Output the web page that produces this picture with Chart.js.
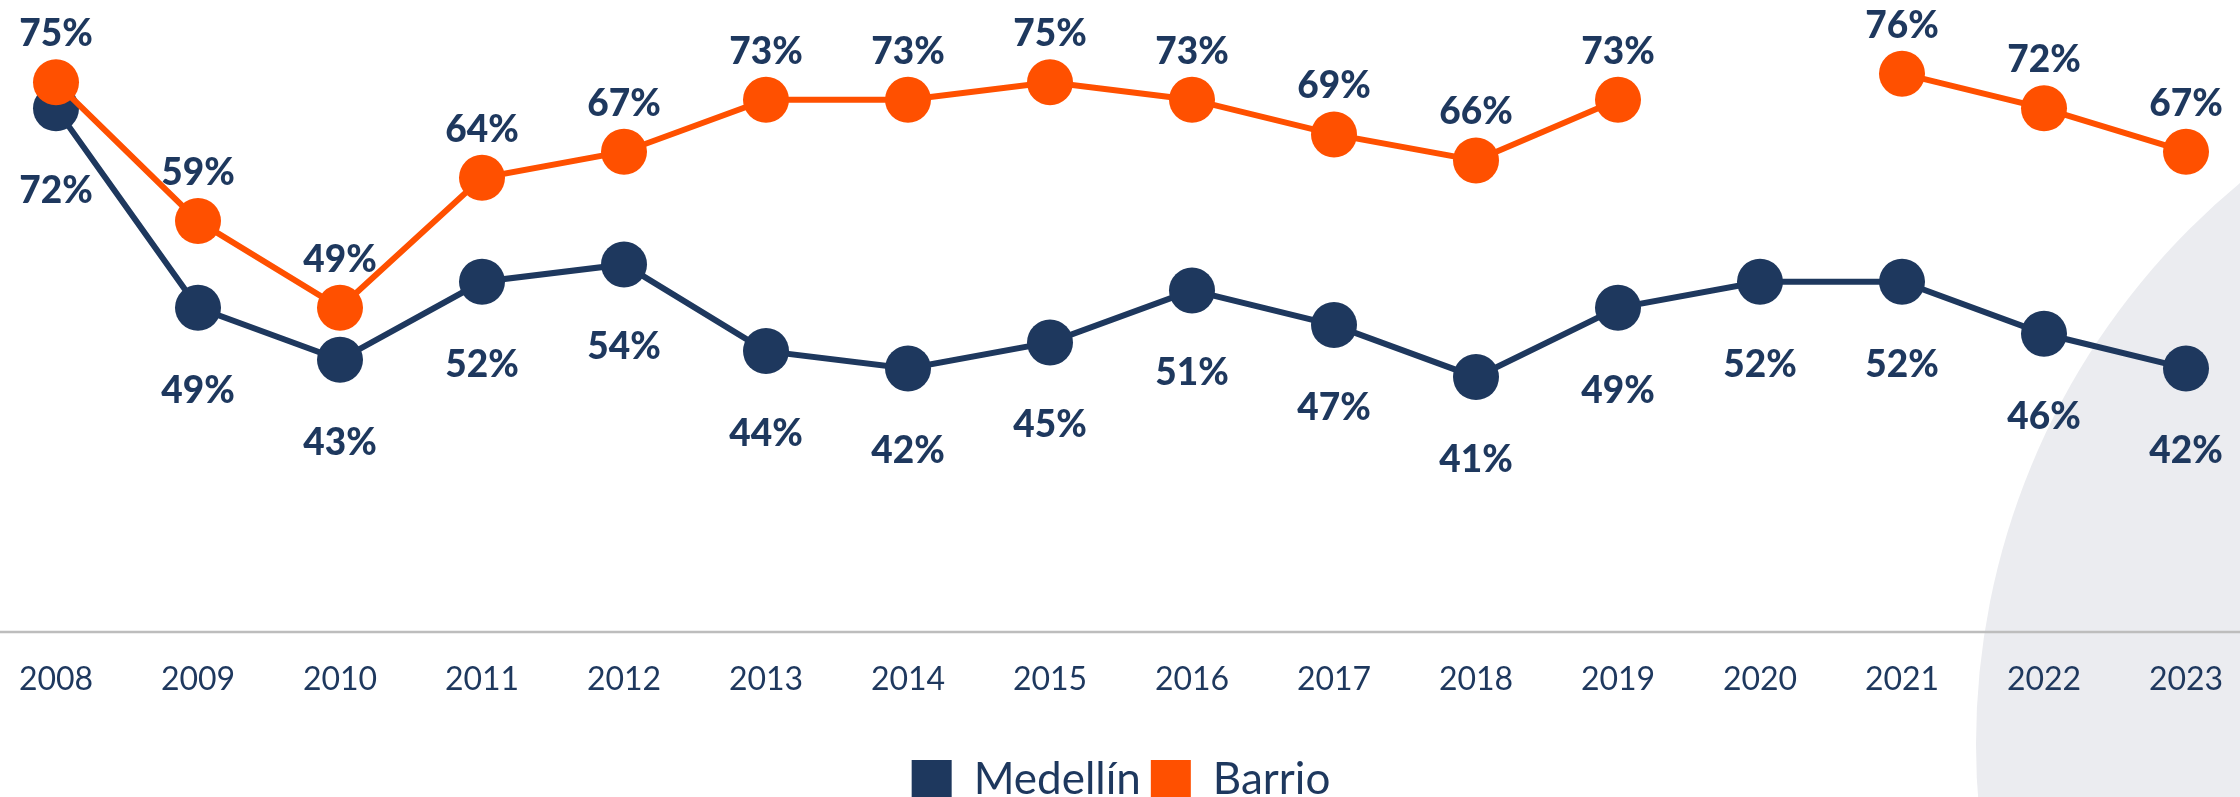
<!DOCTYPE html>
<html>
<head>
<meta charset="utf-8">
<script src="https://cdn.jsdelivr.net/npm/chart.js@4.4.1/dist/chart.umd.min.js"></script>
<style>
  html, body { margin: 0; padding: 0; background: #ffffff; overflow: hidden; }
  #wrap { position: relative; width: 2240px; height: 812px; }
</style>
</head>
<body>
<div id="wrap"><canvas id="c"></canvas></div>
<script>
const years = ['2008','2009','2010','2011','2012','2013','2014','2015','2016','2017','2018','2019','2020','2021','2022','2023'];
const medellin = [72, 49, 43, 52, 54, 44, 42, 45, 51, 47, 41, 49, 52, 52, 46, 42];
const barrio   = [75, 59, 49, 64, 67, 73, 73, 75, 73, 69, 66, 73, null, 76, 72, 67];
const seriesNames = ['Medellín', 'Barrio'];

const NAVY = '#1E385E';
const ORANGE = '#FF5000';

const bgCircle = {
  id: 'bgCircle',
  beforeDraw(chart) {
    const ctx = chart.ctx;
    ctx.save();
    ctx.fillStyle = '#EBECF0';
    ctx.beginPath();
    ctx.arc(2704, 744, 728, 0, Math.PI * 2);
    ctx.fill();
    ctx.restore();
  }
};

const axisLine = {
  id: 'axisLine',
  beforeDatasetsDraw(chart) {
    const ctx = chart.ctx;
    const y = chart.chartArea.bottom;
    ctx.save();
    ctx.strokeStyle = '#BDBDBD';
    ctx.lineWidth = 2.5;
    ctx.beginPath();
    ctx.moveTo(0, y);
    ctx.lineTo(chart.width, y);
    ctx.stroke();
    ctx.restore();
  }
};

const valueLabels = {
  id: 'valueLabels',
  afterDatasetsDraw(chart) {
    const ctx = chart.ctx;
    ctx.save();
    ctx.font = '900 37px Lato';
    ctx.fillStyle = NAVY;
    ctx.textAlign = 'center';
    ctx.textBaseline = 'middle';
    chart.data.datasets.forEach((ds, di) => {
      const meta = chart.getDatasetMeta(di);
      const above = ds.label === 'Barrio';
      meta.data.forEach((pt, i) => {
        const v = ds.data[i];
        if (v === null || v === undefined) return;
        const y = above ? pt.y - 48 : pt.y + 83;
        ctx.fillText(v + '%', pt.x, y);
      });
    });
    ctx.restore();
  }
};

new Chart(document.getElementById('c'), {
  type: 'line',
  data: {
    labels: years,
    datasets: [
      {
        label: seriesNames[1],
        data: barrio,
        borderColor: ORANGE,
        backgroundColor: ORANGE,
        borderWidth: 6,
        pointRadius: 23,
        pointHoverRadius: 23,
        pointBorderWidth: 0,
        pointBackgroundColor: ORANGE,
        spanGaps: false,
        tension: 0,
        clip: false
      },
      {
        label: seriesNames[0],
        data: medellin,
        borderColor: NAVY,
        backgroundColor: NAVY,
        borderWidth: 6,
        pointRadius: 23,
        pointHoverRadius: 23,
        pointBorderWidth: 0,
        pointBackgroundColor: NAVY,
        tension: 0,
        clip: false
      }
    ]
  },
  options: {
    responsive: true,
    maintainAspectRatio: false,
    animation: false,
    layout: { autoPadding: false, padding: { left: 56, right: 54, top: 0, bottom: 0 } },
    scales: {
      x: {
        offset: false,
        grid: { display: false, drawTicks: false },
        border: { display: false },
        ticks: {
          color: NAVY,
          font: { family: 'Lato', size: 32 },
          padding: 28,
          maxRotation: 0,
          autoSkip: false
        },
        afterFit(scale) {
          scale.height = 116;
          scale.paddingLeft = 0;
          scale.paddingRight = 0;
        }
      },
      y: {
        display: false,
        min: 11.6,
        max: 84.5
      }
    },
    plugins: {
      tooltip: { enabled: false },
      legend: {
        position: 'bottom',
        reverse: true,
        labels: {
          color: NAVY,
          font: { family: 'Lato', size: 44 },
          boxWidth: 40,
          boxHeight: 40,
          padding: 10,
          generateLabels(chart) {
            return Chart.defaults.plugins.legend.labels.generateLabels(chart).map(l => ({ ...l, lineWidth: 0 }));
          }
        }
      }
    }
  },
  plugins: [bgCircle, axisLine, valueLabels]
});
</script>
</body>
</html>
